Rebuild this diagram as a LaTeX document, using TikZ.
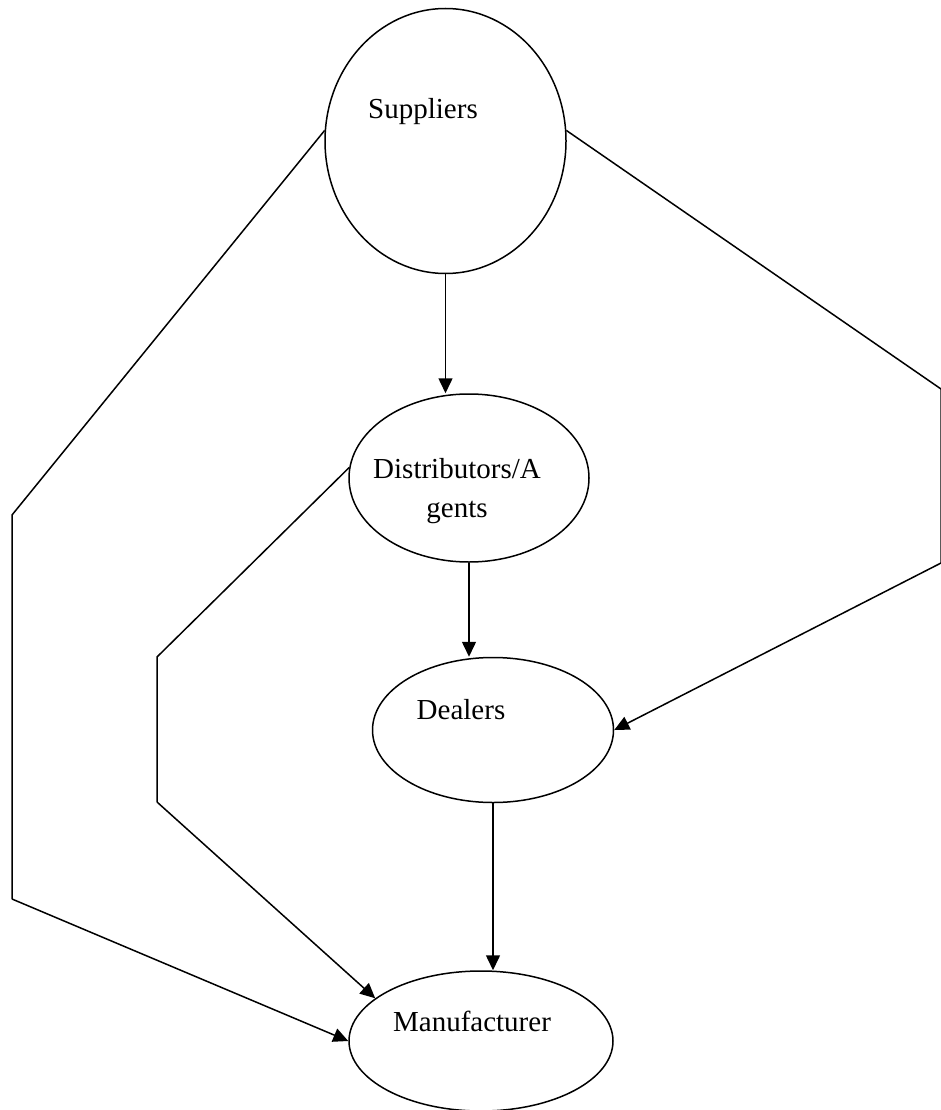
\documentclass[tikz,border=0pt]{standalone}
\usepackage{fontspec}
\setmainfont{Liberation Serif}
\usetikzlibrary{shapes.geometric,arrows.meta}

\begin{document}
\begin{tikzpicture}[x=1pt,y=-1pt,
  party/.style={draw, ellipse, line width=1.5pt, inner sep=0pt},
  tag/.style={anchor=base, inner sep=0pt, font=\fontsize{29}{35}\selectfont},
  flow/.style={line width=1.5pt, -{Triangle[length=15pt,width=14pt]}},
  link/.style={line width=1.5pt, line join=miter}]
  \useasboundingbox (0,0) rectangle (941,1110);

  % actors in the supply chain
  \node[party, minimum width=241pt, minimum height=265pt] (sup)  at (445.5,141) {};
  \node[party, minimum width=240pt, minimum height=168pt] (dist) at (469,478) {};
  \node[party, minimum width=241pt, minimum height=145pt] (deal) at (493,730) {};
  \node[party, minimum width=264pt, minimum height=140pt] (man)  at (481,1041) {};

  % captions
  \node[tag] (supT)   at (423,119)  {Suppliers};
  \node[tag] (distT1) at (457,478)  {Distributors/A};
  \node[tag] (distT2) at (457,517)  {gents};
  \node[tag] (dealT)  at (461,719)  {Dealers};
  \node[tag] (manT)   at (472,1031) {Manufacturer};

  % bends of the outer routes
  \coordinate (l1) at (12,515);
  \coordinate (l2) at (12,899);
  \coordinate (m1) at (157,657);
  \coordinate (m2) at (157,802);
  \coordinate (r1) at (941,389);
  \coordinate (r2) at (941,563);

  % straight chain
  \draw[flow] (sup.south)  -- (sup.south |- dist.north);
  \draw[flow] (dist.south) -- (dist.south |- deal.north);
  \draw[flow] (deal.south) -- (deal.south |- man.north);

  % bypass routes
  \draw[link] (sup.175) -- (l1) -- (l2);
  \draw[flow] (l2) -- (man.west);
  \draw[link] (dist.175) -- (m1) -- (m2);
  \draw[flow] (m2) -- (man.158);
  \draw[link] (sup.5) -- (r1) -- (r2);
  \draw[flow] (r2) -- (deal.east);
\end{tikzpicture}
\end{document}
